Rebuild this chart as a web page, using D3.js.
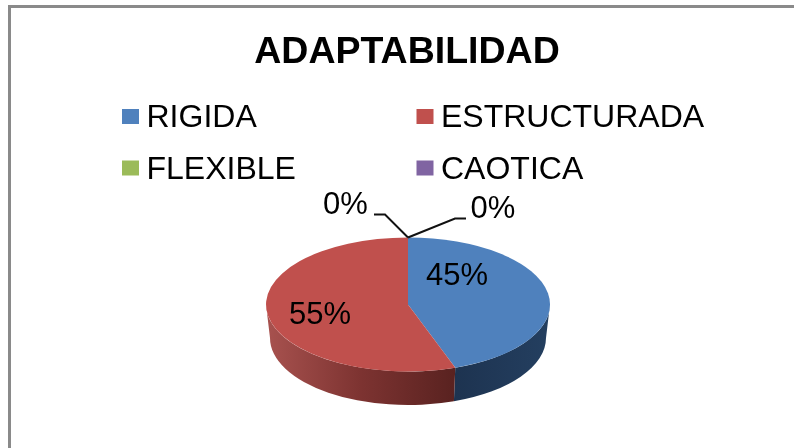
<!DOCTYPE html>
<html>
<head>
<meta charset="utf-8">
<script src="https://cdn.jsdelivr.net/npm/d3@7"></script>
<style>
  html, body { margin: 0; padding: 0; background: #fff; }
  svg { display: block; }
  text { font-family: "Liberation Sans", Arial, sans-serif; fill: #000; }
</style>
</head>
<body>
<div id="chart"></div>
<script>
const titleText = 'ADAPTABILIDAD';
const categories = ['RIGIDA', 'ESTRUCTURADA', 'FLEXIBLE', 'CAOTICA'];
const values = [44.6, 55.4, 0, 0];
const colors = ['#4f81bd', '#c0504d', '#9bbb59', '#8064a2'];

const svgWidth = 794;
const svgHeight = 448;

// 3d pie is an ellipse with a wall below it, the bottom rim is a bit narrower
const pieBox = {cx: 408, cy: 304.5, rx: 142, ry: 67, depth: 33.5, bottomRx: 138};

const svg = d3.select('#chart')
                .append('svg')
                .attr('width', svgWidth)
                .attr('height', svgHeight);

const defs = svg.append('defs');

const wallFills = [
  [[0, '#243f60'], [1, '#1d3350']],
  [[0, '#a8524f'], [0.5, '#7d3331'], [1, '#592220']]
];
wallFills.forEach((stops, i) => {
  defs.append('linearGradient')
      .attr('id', `wall${i}`)
      .attr('x1', i ? 0 : 1).attr('x2', i ? 1 : 0)
      .attr('y1', 0).attr('y2', 0)
      .selectAll('stop')
      .data(stops)
      .join('stop')
      .attr('offset', d => d[0])
      .attr('stop-color', d => d[1]);
});

defs.append('filter').attr('id', 'soft')
    .append('feGaussianBlur').attr('stdDeviation', 0.45);

// frame, only left and top are in the picture
svg.append('path')
    .attr('d', `M9.5 ${svgHeight} V6.5 H${svgWidth}`)
    .attr('fill', 'none')
    .attr('stroke', '#8a8a8a')
    .attr('stroke-width', 3);

svg.append('text')
    .attr('x', 407)
    .attr('y', 62.5)
    .attr('text-anchor', 'middle')
    .attr('font-size', 37.5)
    .attr('font-weight', 'bold')
    .attr('filter', 'url(#soft)')
    .text(titleText);

// legend
const legendX = d3.scaleOrdinal().domain([0, 1]).range([122, 416.5]);
const legendY = d3.scaleOrdinal().domain([0, 1]).range([116.5, 168]);

const legend = svg.append('g').selectAll('g')
                   .data(categories)
                   .join('g')
                   .attr('transform', (d, i) => `translate(${legendX(i % 2)}, ${legendY(Math.floor(i / 2))})`);

legend.append('rect')
    .attr('x', 0)
    .attr('y', -7.5)
    .attr('width', 17)
    .attr('height', 15)
    .attr('fill', (d, i) => colors[i]);

legend.append('text')
    .attr('x', 24.5)
    .attr('y', 10.5)
    .attr('font-size', 32)
    .attr('filter', 'url(#soft)')
    .text(d => d);

// pie
const pie = d3.pie().sort(null).value(d => d);
const slices = pie(values);

const px = a => pieBox.cx + pieBox.rx * Math.sin(a);
const py = a => pieBox.cy - pieBox.ry * Math.cos(a);
const bx = a => pieBox.cx + pieBox.bottomRx * Math.sin(a);
const by = a => pieBox.cy + pieBox.depth - pieBox.ry * Math.cos(a);

// wall of one slice, only the front half of the rim shows
const wallPath = function(d) {
  const a0 = Math.max(d.startAngle, Math.PI / 2);
  const a1 = Math.min(d.endAngle, Math.PI * 3 / 2);
  if (a1 <= a0) return null;
  const {rx, ry, bottomRx} = pieBox;
  return `M${px(a0)} ${py(a0)}A${rx} ${ry} 0 0 1 ${px(a1)} ${py(a1)}` +
      `L${bx(a1)} ${by(a1)}A${bottomRx} ${ry} 0 0 0 ${bx(a0)} ${by(a0)}Z`;
};

svg.append('g').selectAll('path')
    .data(slices.slice(0, 2))
    .join('path')
    .attr('d', wallPath)
    .attr('fill', (d, i) => `url(#wall${i})`);

const arc = d3.arc().innerRadius(0).outerRadius(1);

svg.append('g')
    .attr('transform', `translate(${pieBox.cx}, ${pieBox.cy}) scale(${pieBox.rx}, ${pieBox.ry})`)
    .selectAll('path')
    .data(slices)
    .join('path')
    .attr('d', arc)
    .attr('fill', (d, i) => colors[i]);

// leader lines for the two empty slices
const apexX = px(0);
const apexY = py(0);
const leaders = [
  [[apexX, apexY], [apexX - 23, apexY - 23], [apexX - 34, apexY - 23]],
  [[apexX, apexY], [apexX + 47, apexY - 19], [apexX + 58, apexY - 19]]
];

svg.append('g').selectAll('path')
    .data(leaders)
    .join('path')
    .attr('d', d3.line())
    .attr('fill', 'none')
    .attr('stroke', '#111')
    .attr('stroke-width', 2);

// slice labels
const labelSpots = [
  {x: 457, y: 285},
  {x: 320, y: 324},
  {x: 345.5, y: 214},
  {x: 493, y: 217.5}
];

svg.append('g').selectAll('text')
    .data(slices)
    .join('text')
    .attr('x', (d, i) => labelSpots[i].x)
    .attr('y', (d, i) => labelSpots[i].y)
    .attr('text-anchor', 'middle')
    .attr('font-size', 31)
    .attr('filter', 'url(#soft)')
    .text(d => `${Math.round(d.data)}%`);
</script>
</body>
</html>
